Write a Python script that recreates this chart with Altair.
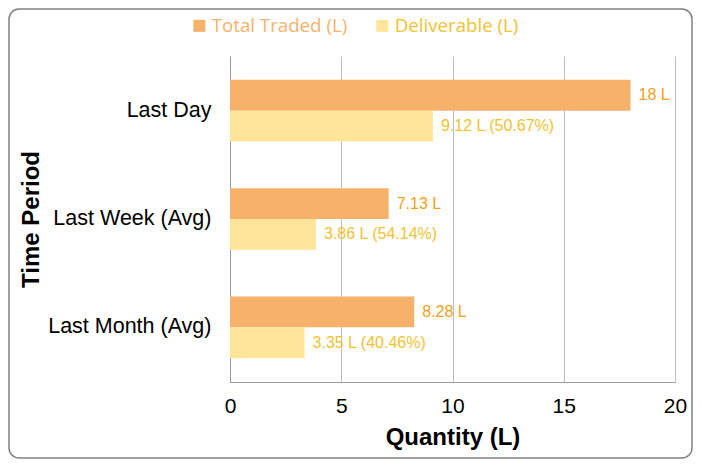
import altair as alt
import pandas as pd

periods = ["Last Day", "Last Week (Avg)", "Last Month (Avg)"]
series = ["Total Traded (L)", "Deliverable (L)"]
total_traded = [18, 7.13, 8.28]
deliverable = [9.12, 3.86, 3.35]
deliverable_pct = [50.67, 54.14, 40.46]
x_ticks = [0, 5, 10, 15, 20]

rows = []
for p, t, d, pct in zip(periods, total_traded, deliverable, deliverable_pct):
    rows.append({"period": p, "series": series[0], "value": t,
                 "label": f"{t:g} L"})
    rows.append({"period": p, "series": series[1], "value": d,
                 "label": f"{d:.2f} L ({pct:.2f}%)"})
df = pd.DataFrame(rows)

font = "Liberation Sans"

x_enc = alt.X("value:Q",
              scale=alt.Scale(domain=[0, 20], nice=False),
              axis=alt.Axis(values=x_ticks, title="Quantity (L)", ticks=False, tickSize=0,
                            labelPadding=13, labelFontSize=21, labelFont=font,
                            labelColor="black", labelFlush=False,
                            titleFont=font, titleFontSize=24,
                            titleFontWeight="bold", titleColor="black", titlePadding=9,
                            grid=True, gridColor="#bdbdbd", domainColor="#999999"))
y_enc = alt.Y("period:N", sort=periods,
              scale=alt.Scale(paddingInner=0.43, paddingOuter=0.22),
              axis=alt.Axis(title="Time Period", ticks=False, tickSize=0, labelPadding=19,
                            labelFontSize=21.5, labelFont=font, labelColor="black",
                            titleFont=font, titleFontSize=24, titleFontWeight="bold",
                            titleColor="black", titlePadding=4, domainColor="#999999"))
yoff = alt.YOffset("series:N", sort=series,
                   scale=alt.Scale(paddingInner=0, paddingOuter=0))

bars = alt.Chart(df).mark_bar().encode(
    x=x_enc,
    y=y_enc,
    yOffset=yoff,
    color=alt.Color("series:N", sort=series,
                    scale=alt.Scale(domain=series, range=["#F6B26B", "#FFE599"]),
                    legend=alt.Legend(title=None, orient="none", direction="horizontal",
                                      legendX=-40, legendY=-40, symbolType="square",
                                      symbolSize=144, symbolStrokeWidth=0,
                                      labelFont="Open Sans", labelFontSize=18.7,
                                      labelOffset=3, columnPadding=25,
                                      labelColor={"expr": "datum.label == 'Total Traded (L)' ? '#F6B26B' : '#F1C232'"}))
)

labels = alt.Chart(df).mark_text(align="left", baseline="middle", dx=8,
                                 font=font, fontSize=16).encode(
    x="value:Q",
    y=alt.Y("period:N", sort=periods),
    yOffset=alt.YOffset("series:N", sort=series),
    text="label:N",
    color=alt.condition(alt.datum.series == series[0],
                        alt.value("#F5A020"), alt.value("#F1C232"))
)

frame = alt.Chart(pd.DataFrame({"f": [0]})).mark_rect(
    fill="transparent", stroke="#808080", strokeWidth=1.5, cornerRadius=10
).encode(x=alt.value(-221), x2=alt.value(462), y=alt.value(-47), y2=alt.value(402))

chart = alt.layer(frame, bars, labels).properties(
    width=445, height=326, padding=0, background="white"
).configure_view(stroke=None)

chart.save("out.html", embed_options={"renderer": "svg", "actions": False})
